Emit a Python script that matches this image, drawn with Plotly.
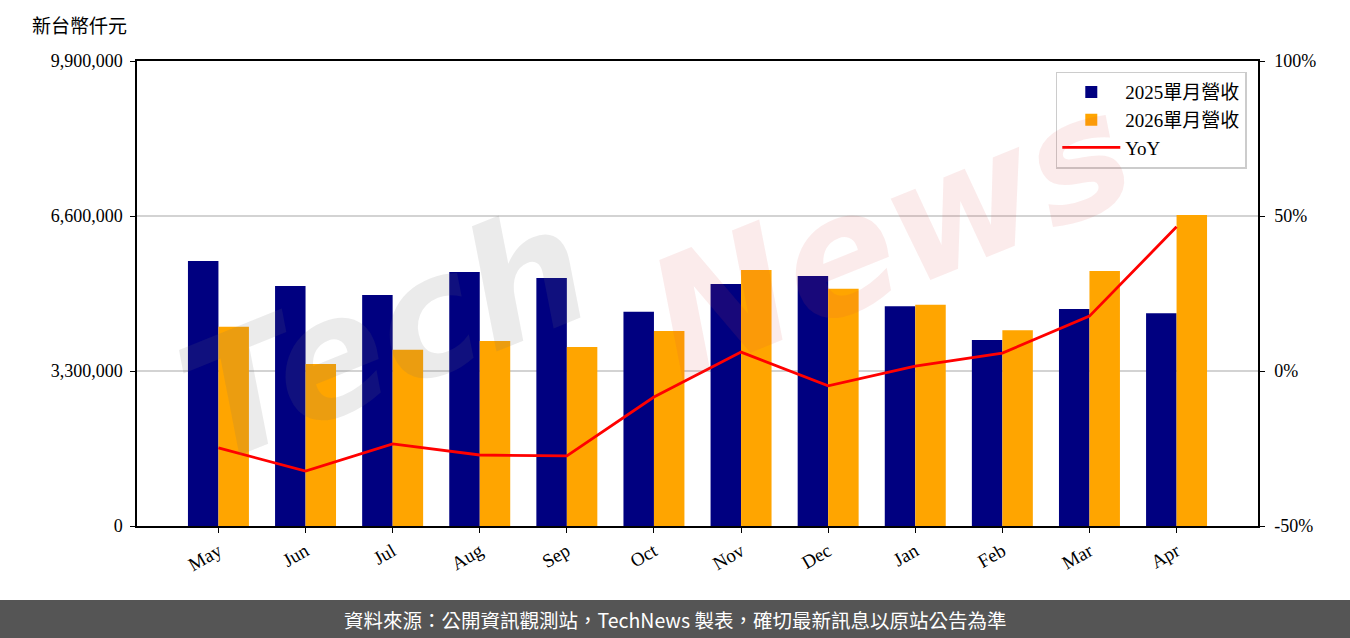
import plotly.graph_objects as go

months = ["May", "Jun", "Jul", "Aug", "Sep", "Oct", "Nov", "Dec", "Jan", "Feb", "Mar", "Apr"]
rev_2025 = [5640000, 5110000, 4920000, 5410000, 5280000, 4560000, 5150000, 5320000, 4680000, 3960000, 4620000, 4530000]
rev_2026 = [4240000, 3450000, 3750000, 3940000, 3810000, 4150000, 5450000, 5050000, 4710000, 4170000, 5430000, 6620000]
yoy = [-24.8, -32.3, -23.5, -27.1, -27.4, -8.4, 6.1, -4.8, 1.6, 5.8, 17.7, 46.5]
left_ticks = [0, 3300000, 6600000, 9900000]
left_labels = ["0", "3,300,000", "6,600,000", "9,900,000"]
right_ticks = [-50, 0, 50, 100]
right_labels = ["-50%", "0%", "50%", "100%"]

SERIF = "Liberation Serif, Noto Sans CJK TC, serif"
SANS = "Noto Sans CJK TC, Noto Sans, sans-serif"

W, H = 1350, 638
ML, MR, MT, MB = 137, 92, 61, 112
PW, PH = W - ML - MR, H - MT - MB

fig = go.Figure()
fig.add_trace(go.Bar(x=months, y=rev_2025, name="2025單月營收", marker_color="#000080",
                     width=0.35, offset=-0.35, marker_line_width=0))
fig.add_trace(go.Bar(x=months, y=rev_2026, name="2026單月營收", marker_color="#FFA500",
                     width=0.35, offset=0, marker_line_width=0))
fig.add_trace(go.Scatter(x=months, y=yoy, name="YoY", mode="lines",
                         line=dict(color="#FF0000", width=2.8), yaxis="y2"))

fig.update_layout(
    width=W, height=H,
    margin=dict(l=ML, r=MR, t=MT, b=MB),
    plot_bgcolor="white", paper_bgcolor="white",
    barmode="overlay",
    font=dict(family=SERIF, size=18, color="black"),
    xaxis=dict(range=[-0.935, 11.935], tickangle=-30, showline=True, linecolor="black",
               linewidth=1.5, mirror=True, ticks="outside", ticklen=5, tickcolor="black",
               showgrid=False, tickfont=dict(family=SERIF, size=19)),
    yaxis=dict(range=[0, 9900000], tickvals=left_ticks, ticktext=left_labels,
               showline=True, linecolor="black", linewidth=1.5, mirror=True,
               ticks="outside", ticklen=5, tickcolor="black", ticklabelstandoff=4,
               showgrid=True, gridcolor="#d3d3d3", gridwidth=1.5, zeroline=False,
               tickfont=dict(family=SERIF, size=18)),
    yaxis2=dict(range=[-50, 100], tickvals=right_ticks, ticktext=right_labels,
                overlaying="y", side="right", showgrid=False, zeroline=False,
                ticks="outside", ticklen=5, tickcolor="black", showline=True,
                linecolor="black", linewidth=1.5, ticklabelstandoff=6,
                tickfont=dict(family=SERIF, size=18)),
    legend=dict(x=0.99, y=0.977, xanchor="right", yanchor="top",
                bgcolor="rgba(255,255,255,0.85)", bordercolor="#cccccc", borderwidth=1.5,
                font=dict(family=SERIF, size=19), itemwidth=58, tracegroupgap=4),
    showlegend=True,
)

# Unit label
fig.add_annotation(text="新台幣仟元", xref="paper", yref="paper", x=(30 - ML) / PW, y=1.0,
                   xanchor="left", yanchor="bottom", yshift=22, showarrow=False,
                   font=dict(family=SERIF, size=19, color="black"))

# Watermark
fig.add_annotation(text="<i><b>Tech</b></i>", xref="paper", yref="paper",
                   x=(385 - ML) / PW, y=(526 - 335) / PH, xanchor="center", yanchor="middle",
                   showarrow=False, textangle=-22,
                   font=dict(family="DejaVu Sans", size=165, color="rgba(110,110,110,0.14)"))
fig.add_annotation(text="<i><b>News</b></i>", xref="paper", yref="paper",
                   x=(890 - ML) / PW, y=(526 - 235) / PH, xanchor="center", yanchor="middle",
                   showarrow=False, textangle=-22,
                   font=dict(family="DejaVu Sans", size=165, color="rgba(215,70,70,0.11)"))

# Footer band
fig.add_shape(type="rect", xref="paper", yref="paper", x0=-ML / PW - 0.01, x1=1 + MR / PW + 0.01,
              y0=-MB / PH - 0.01, y1=-(MB - 38) / PH, fillcolor="#555555", line_width=0, layer="above")
fig.add_annotation(text="資料來源：公開資訊觀測站，TechNews 製表，確切最新訊息以原站公告為準",
                   xref="paper", yref="paper", x=(675 - ML) / PW, y=-(MB - 19) / PH,
                   xanchor="center", yanchor="middle", showarrow=False,
                   font=dict(family=SANS, size=19.5, color="white"))

fig.write_html("out.html", config={"displayModeBar": False},
               post_script="document.body.style.margin='0';document.body.style.overflow='hidden';")
